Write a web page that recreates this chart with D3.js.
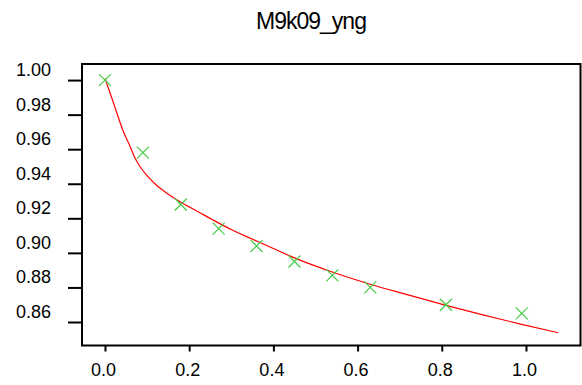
<!DOCTYPE html>
<html>
<head>
<meta charset="utf-8">
<script src="https://cdn.jsdelivr.net/npm/d3@7"></script>
<style>
  html, body { margin: 0; padding: 0; background: #fff; }
  svg { display: block; font-family: "Liberation Sans", Arial, sans-serif; }
</style>
</head>
<body>
<div id="chart"></div>
<script>
(function () {
    'use strict';

    const TITLE = 'M9k09_yng';

    // observed points (green crosses)
    const obsX = [0, 0.09, 0.18, 0.27, 0.36, 0.45, 0.54, 0.63, 0.81, 0.99];
    const obsY = [1.000, 0.958, 0.928, 0.914, 0.904, 0.895, 0.887, 0.880, 0.870, 0.865];

    // fitted curve (red)
    const fitX = [0, 0.010, 0.024, 0.044, 0.059, 0.071, 0.083, 0.099, 0.123, 0.139, 0.162, 0.178,
        0.22, 0.257, 0.30, 0.348, 0.40, 0.447, 0.538, 0.628, 0.72, 0.808, 0.90, 0.987, 1.077];
    const fitY = [1.001, 0.994, 0.984, 0.970, 0.962, 0.955, 0.950, 0.945, 0.939, 0.936, 0.932, 0.9296,
        0.924, 0.919, 0.9135, 0.9082, 0.9025, 0.8974, 0.8891, 0.882, 0.8757, 0.8698, 0.864, 0.8588, 0.8538];

    const xTicks = [0, 0.2, 0.4, 0.6, 0.8, 1.0];
    const yTicks = [0.86, 0.88, 0.90, 0.92, 0.94, 0.96, 0.98, 1.00];

    const W = 582, H = 385;
    const box = {left: 82, right: 580.5, top: 64, bottom: 345.5};

    const svg = d3.select('#chart').append('svg').attr('width', W).attr('height', H);

    const x = d3.scaleLinear().domain([-0.0546, 1.1295]).range([box.left, box.right]);
    const y = d3.scaleLinear().domain([0.8464, 1.0093]).range([box.bottom, box.top]);

    // title
    svg.append('text')
        .attr('x', 311).attr('y', 29)
        .attr('text-anchor', 'middle')
        .attr('font-size', '23px').attr('letter-spacing', '-1px')
        .attr('fill', '#000')
        .text(TITLE);

    // x axis (ticks below the frame)
    svg.append('g').attr('transform', `translate(0,${box.bottom})`)
        .call(d3.axisBottom(x).tickValues(xTicks).tickSize(6).tickPadding(12)
            .tickFormat(d3.format('.1f')))
        .call(gg => {
            gg.select('.domain').remove();
            gg.selectAll('line').attr('stroke', '#000').attr('stroke-width', 2);
            gg.selectAll('text').attr('font-size', '18px').attr('fill', '#000')
                .attr('font-family', '"Liberation Sans", Arial, sans-serif')
                .attr('dx', '-2px');
        });

    // y axis (labels sit a little above their ticks)
    svg.append('g').attr('transform', `translate(${box.left},0)`)
        .call(d3.axisLeft(y).tickValues(yTicks).tickSize(14).tickPadding(17)
            .tickFormat(d3.format('.2f')))
        .call(gg => {
            gg.select('.domain').remove();
            gg.selectAll('line').attr('stroke', '#000').attr('stroke-width', 2);
            gg.selectAll('text').attr('font-size', '18px').attr('fill', '#000')
                .attr('font-family', '"Liberation Sans", Arial, sans-serif')
                .attr('dy', '-0.25em');
        });

    // frame
    svg.append('rect')
        .attr('x', box.left).attr('y', box.top)
        .attr('width', box.right - box.left).attr('height', box.bottom - box.top)
        .attr('fill', 'none').attr('stroke', '#000').attr('stroke-width', 2);

    // fitted curve
    const fitData = fitX.map((v, i) => [v, fitY[i]]);
    svg.append('path')
        .datum(fitData)
        .attr('fill', 'none').attr('stroke', '#ff0000').attr('stroke-width', 1.2)
        .attr('d', d3.line().x(d => x(d[0])).y(d => y(d[1])).curve(d3.curveMonotoneX));

    // observed crosses
    const s = 6;
    const obs = obsX.map((v, i) => [v, obsY[i]]);
    svg.append('g').selectAll('path.cross')
        .data(obs).join('path')
        .attr('class', 'cross')
        .attr('fill', 'none').attr('stroke', '#44cc44').attr('stroke-width', 1.2)
        .attr('d', d => {
            const cx = x(d[0]), cy = y(d[1]);
            return `M${cx - s},${cy - s}L${cx + s},${cy + s}M${cx - s},${cy + s}L${cx + s},${cy - s}`;
        });
})();
</script>
</body>
</html>
